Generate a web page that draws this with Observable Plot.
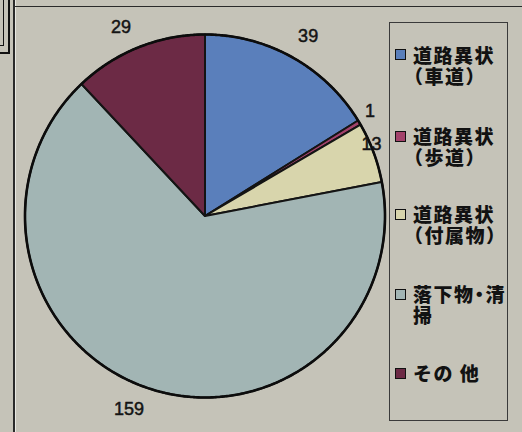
<!DOCTYPE html>
<html><head><meta charset="utf-8">
<script src="https://cdn.jsdelivr.net/npm/d3@7"></script>
<script src="https://cdn.jsdelivr.net/npm/@observablehq/plot@0.6"></script>
<style>
html,body{margin:0;padding:0;background:#c5c3b8;}
#wrap{position:relative;width:522px;height:432px;overflow:hidden;background:#c5c3b8;}
#wrap svg{position:absolute;left:0;top:0;background:transparent;}
.ln{position:absolute;background:#2a2a2a;}
#legend{position:absolute;left:389px;top:22px;width:119px;height:399px;border:1px solid #3a3a3a;box-sizing:border-box;}
.item{position:absolute;left:0;}
.sq{position:absolute;left:5px;width:9px;height:9px;border:1.6px solid #111;}
.txt{position:absolute;left:23px;font-family:"Noto Sans CJK JP",sans-serif;font-weight:900;font-size:19px;line-height:21px;letter-spacing:1.5px;color:#121212;white-space:pre;font-feature-settings:"palt" 0;}
.txt.p{font-feature-settings:"palt" 1;}
.txt.paren{margin-left:-9px;text-indent:9px;}
</style></head><body>
<div id="wrap">
  <div class="ln" style="left:13px;top:0;width:1.5px;height:432px;"></div>
  <div class="ln" style="left:15px;top:0;width:1px;height:432px;background:#e8e8e2;"></div>
  <div class="ln" style="left:14px;top:6px;width:508px;height:1.2px;"></div>
  <div style="position:absolute;left:-6px;top:-6px;width:12px;height:56px;border:2.5px solid #111;"></div>
  <div style="position:absolute;left:-6px;top:-6px;width:8px;height:50px;border:1.5px solid #111;"></div>
  <div id="legend"></div>
</div>
<script>
// ---- data ----
const categories = ["道路異状（車道）", "道路異状（歩道）", "道路異状（付属物）", "落下物・清掃", "その 他"];
const legendLines = [["道路異状", "（車道）"], ["道路異状", "（歩道）"], ["道路異状", "（付属物）"], ["落下物・清", "掃"], ["その 他"]];
const values = [39, 1, 13, 159, 29];
const colors = ["#5a7fbb", "#a3426b", "#d8d5ac", "#a2b5b4", "#6c2a45"];

// ---- layout (label nudges, not data) ----
const labelRadius = [1.145, 1.085, 1.005, 1.145, 1.14];
const labelAngleNudge = [0.9, -1.3, -2.5, 3.7, -2.5]; // degrees

const table = categories.map((c, i) => ({key: c, value: values[i]}));
const arcs = d3.pie().sort(null).value(d => d.value).startAngle(0).endAngle(2 * Math.PI)(table);

// wedge outlines as polygons (center -> arc -> center), in unit-circle coordinates
const wedgePts = [];
arcs.forEach(a => {
  const n = Math.max(2, Math.ceil((a.endAngle - a.startAngle) / (Math.PI / 720)));
  wedgePts.push({key: a.data.key, x: 0, y: 0});
  for (let k = 0; k <= n; k++) {
    const t = a.startAngle + (a.endAngle - a.startAngle) * k / n;
    wedgePts.push({key: a.data.key, x: Math.sin(t), y: Math.cos(t)});
  }
  wedgePts.push({key: a.data.key, x: 0, y: 0});
});

const labels = arcs.map((a, i) => {
  const m = (a.startAngle + a.endAngle) / 2 + labelAngleNudge[i] * Math.PI / 180;
  return {x: labelRadius[i] * Math.sin(m), y: labelRadius[i] * Math.cos(m), text: String(a.data.value)};
});

const circle = d3.range(0, 721).map(k => ({x: Math.sin(k * Math.PI / 360), y: Math.cos(k * Math.PI / 360)}));

const chart = Plot.plot({
  width: 522, height: 432,
  marginLeft: 24.5, marginRight: 137.5, marginTop: 34, marginBottom: 35,
  x: {domain: [-1, 1], axis: null},
  y: {domain: [-1, 1], axis: null},
  color: {domain: categories, range: colors},
  style: {background: "transparent", overflow: "visible"},
  marks: [
    Plot.line(wedgePts, {x: "x", y: "y", z: "key", fill: "key", stroke: "#141414", strokeWidth: 2, strokeLinejoin: "round", curve: "linear"}),
    Plot.line(circle, {x: "x", y: "y", stroke: "#0c0c0c", strokeWidth: 2.6, curve: "linear"}),
    Plot.text(labels, {x: "x", y: "y", text: "text", fontSize: 18, fill: "#141414", stroke: "#141414", strokeWidth: 0.5, fontFamily: "'Liberation Sans', Arial, sans-serif", clip: false})
  ]
});
document.getElementById("wrap").appendChild(chart);

// legend built from the same categories/colours
const legend = document.getElementById("legend");
const itemTops = [20.5, 102, 180, 260, 339];
legendLines.forEach((lines, i) => {
  const it = document.createElement("div");
  it.className = "item";
  it.style.top = itemTops[i] + "px";
  const sq = document.createElement("div");
  sq.className = "sq";
  sq.style.top = "5.5px";
  sq.style.background = colors[i];
  it.appendChild(sq);
  const tx = document.createElement("div");
  tx.className = "txt" + (lines.join("").includes("・") ? " p" : "") + (lines.length > 1 && lines[1].startsWith("（") ? " paren" : "");
  tx.style.top = "0px";
  tx.textContent = lines.join("\n");
  it.appendChild(tx);
  legend.appendChild(it);
});
</script>
</body></html>
